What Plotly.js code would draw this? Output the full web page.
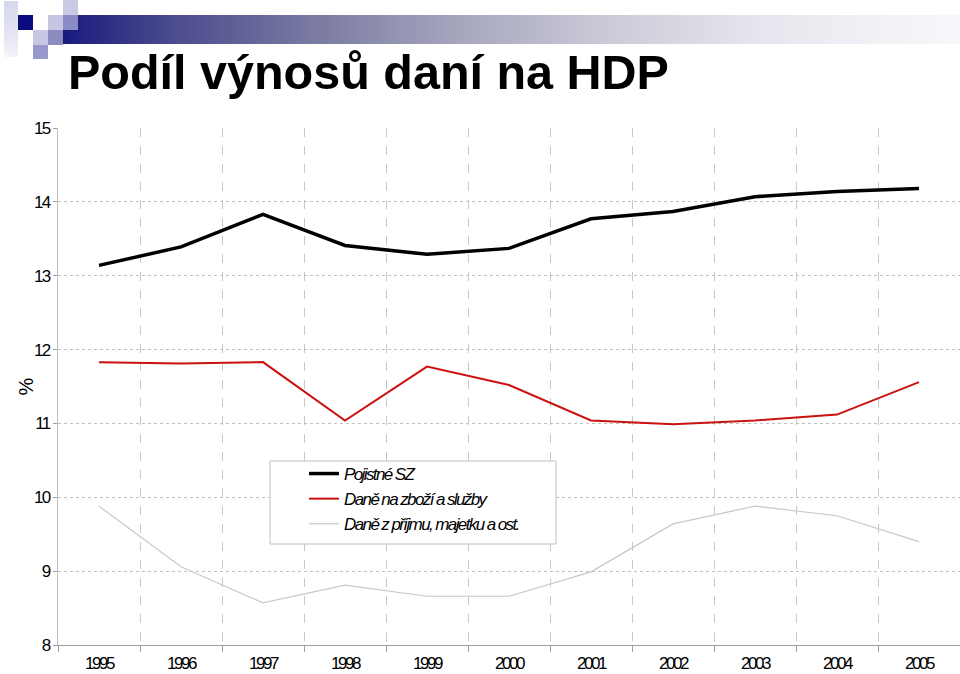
<!DOCTYPE html>
<html>
<head>
<meta charset="utf-8">
<script src="https://cdn.plot.ly/plotly-3.0.1.min.js"></script>
<style>
  html, body { margin: 0; padding: 0; background: #ffffff; }
  #wrap { position: relative; width: 960px; height: 674px; overflow: hidden; }
  #deco { position: absolute; left: 0; top: 0; width: 960px; height: 674px; }
  .sq { position: absolute; }
  #chart { position: absolute; left: 0; top: 0; width: 960px; height: 674px; }
  #chart .xtick text { letter-spacing: -2.4px; }
  #chart .ytick text { letter-spacing: -1.6px; }
  #chart .legendtext { letter-spacing: -1.6px; }
</style>
</head>
<body>
<div id="wrap">
  <div id="deco">
    <div class="sq" style="left:63px;top:15px;width:897px;height:29px;background:linear-gradient(to right,#1a1a7e 0%,#4a4a8e 12%,#7a7aa2 28%,#a8a8c0 45%,#cdcdda 62%,#e6e6ee 78%,#f8f8fb 100%);"></div>
    <div class="sq" style="left:4px;top:1px;width:14px;height:56px;background:linear-gradient(to bottom,#d6d6ee,#e4e4f4 60%,#f4f4fa);"></div>
    <div class="sq" style="left:18px;top:15px;width:15px;height:15px;background:#0b0b80;"></div>
    <div class="sq" style="left:48px;top:15px;width:15px;height:15px;background:#c6c6e4;"></div>
    <div class="sq" style="left:63px;top:0px;width:15px;height:15px;background:#cacae6;"></div>
    <div class="sq" style="left:63px;top:15px;width:15px;height:15px;background:#8c8cc4;"></div>
    <div class="sq" style="left:33px;top:30px;width:15px;height:15px;background:#c8c8e4;"></div>
    <div class="sq" style="left:48px;top:30px;width:15px;height:15px;background:#8c8cc0;"></div>
    <div class="sq" style="left:33px;top:45px;width:15px;height:14px;background:#9898cc;"></div>
  </div>
  <div id="chart"></div>
</div>
<script>
const years = ['1995','1996','1997','1998','1999','2000','2001','2002','2003','2004','2005'];
const seriesNames = ['Pojistné SZ', 'Daně na zboží a služby', 'Daně z příjmu, majetku a ost.'];
const pojistneSZ = [13.14, 13.39, 13.83, 13.41, 13.29, 13.37, 13.77, 13.87, 14.07, 14.14, 14.18];
const daneZbozi  = [11.83, 11.81, 11.83, 11.04, 11.77, 11.52, 11.04, 10.99, 11.04, 11.12, 11.56];
const danePrijmy = [9.88, 9.06, 8.57, 8.81, 8.66, 8.66, 8.99, 9.64, 9.88, 9.75, 9.40];
const yTicks = [8, 9, 10, 11, 12, 13, 14, 15];

const sans = 'Liberation Sans, Arial, sans-serif';

const traces = [
  { x: years, y: pojistneSZ, name: seriesNames[0], type: 'scatter', mode: 'lines',
    line: { color: '#000000', width: 3.5 } },
  { x: years, y: daneZbozi, name: seriesNames[1], type: 'scatter', mode: 'lines',
    line: { color: '#cc1111', width: 2 } },
  { x: years, y: danePrijmy, name: seriesNames[2], type: 'scatter', mode: 'lines',
    line: { color: '#c8c8c8', width: 1.2 } }
];

const layout = {
  width: 960, height: 674,
  margin: { l: 58, r: 0, t: 128, b: 29, pad: 0 },
  paper_bgcolor: 'rgba(0,0,0,0)',
  plot_bgcolor: 'rgba(0,0,0,0)',
  title: {
    text: 'Podíl výnosů daní na HDP',
    font: { family: sans, size: 48.5, weight: 700, color: '#000000' },
    xref: 'container', x: 68/960, xanchor: 'left',
    yref: 'container', y: 1 - 55/674, yanchor: 'top'
  },
  xaxis: {
    type: 'category',
    range: [-0.5, 10.5],
    tickson: 'boundaries',
    ticks: 'outside', ticklen: 6, tickcolor: '#a0a0a0', tickwidth: 1,
    ticklabelstandoff: 3,
    showline: true, linecolor: '#a0a0a0', linewidth: 1,
    showgrid: true, gridcolor: '#c8c8c8', griddash: 'dash', gridwidth: 1,
    zeroline: false,
    tickfont: { family: sans, size: 17, color: '#000000' }
  },
  yaxis: {
    range: [8, 15],
    tickvals: yTicks,
    ticks: 'outside', ticklen: 4, tickcolor: '#a0a0a0',
    showline: true, linecolor: '#c0c0c0', linewidth: 1,
    showgrid: true, gridcolor: '#c0c0c0', griddash: 'dot', gridwidth: 1,
    zeroline: false,
    tickfont: { family: sans, size: 17, color: '#000000' }
  },
  annotations: [
    { text: '%', xref: 'paper', yref: 'paper', x: (25 - 58) / 902, y: 0.5,
      xanchor: 'center', yanchor: 'middle', textangle: -90, showarrow: false,
      font: { family: sans, size: 20, color: '#000000' } }
  ],
  showlegend: true,
  legend: {
    x: (304 - 58) / 902, xanchor: 'left',
    y: (645 - 456) / 517, yanchor: 'top',
    bgcolor: 'rgba(0,0,0,0)', borderwidth: 0,
    font: { family: sans, size: 17, style: 'italic', color: '#000000' },
    traceorder: 'normal',
    itemwidth: 30
  },
  shapes: [
    { type: 'rect', xref: 'paper', yref: 'paper', layer: 'above',
      x0: (270 - 58) / 902, x1: (556 - 58) / 902,
      y0: (645 - 544) / 517, y1: (645 - 461) / 517,
      line: { color: '#c0c0c0', width: 1 }, fillcolor: '#ffffff' }
  ]
};

Plotly.newPlot('chart', traces, layout, { displayModeBar: false, staticPlot: true });
</script>
</body>
</html>
